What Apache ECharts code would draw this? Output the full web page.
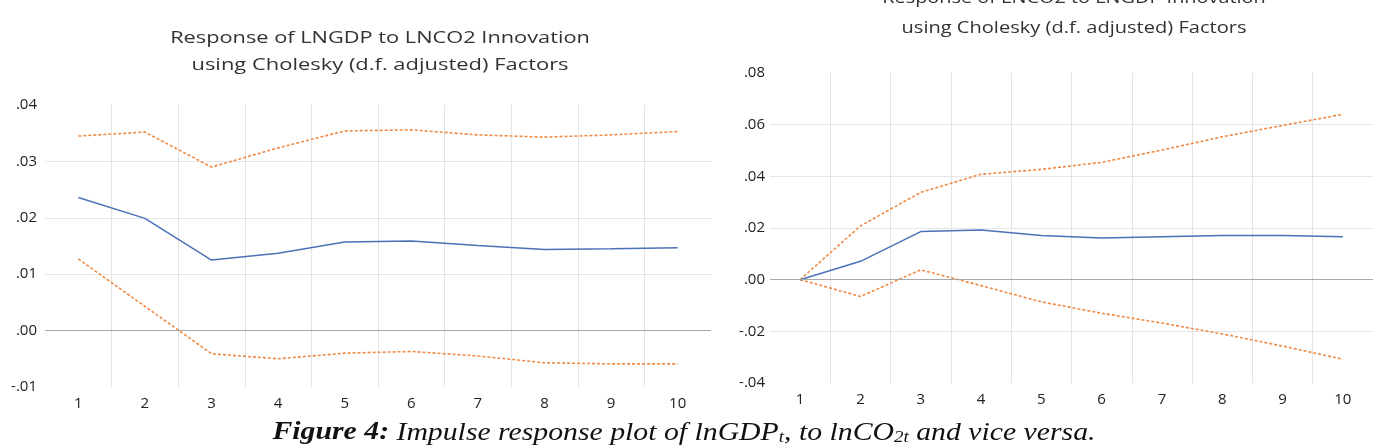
<!DOCTYPE html>
<html>
<head>
<meta charset="utf-8">
<script src="https://cdn.jsdelivr.net/npm/echarts@6/dist/echarts.min.js"></script>
<style>
html,body{margin:0;padding:0;background:#fff;}
#chart{width:1386px;height:447px;}
</style>
</head>
<body>
<div id="chart"></div>
<script>
// ---- Data ----
var periods = ['1','2','3','4','5','6','7','8','9','10'];

// Left: Response of LNGDP to LNCO2 Innovation
var gdpResp  = [0.0236, 0.0199, 0.0125, 0.0137, 0.0157, 0.0159, 0.0151, 0.0144, 0.0145, 0.0147];
var gdpUpper = [0.0345, 0.0352, 0.0290, 0.0324, 0.0354, 0.0356, 0.0347, 0.0343, 0.0347, 0.0353];
var gdpLower = [0.0127, 0.0043, -0.0041, -0.0050, -0.0040, -0.0037, -0.0045, -0.0057, -0.0059, -0.0059];

// Right: Response of LNCO2 to LNGDP Innovation
var co2Resp  = [0.0000, 0.0071, 0.0186, 0.0192, 0.0171, 0.0161, 0.0166, 0.0171, 0.0171, 0.0166];
var co2Upper = [0.0000, 0.0208, 0.0338, 0.0408, 0.0427, 0.0454, 0.0502, 0.0553, 0.0597, 0.0640];
var co2Lower = [0.0000, -0.0065, 0.0038, -0.0023, -0.0086, -0.0130, -0.0168, -0.0210, -0.0257, -0.0308];

var leftTitle  = ['Response of LNGDP to LNCO2 Innovation', 'using Cholesky (d.f. adjusted) Factors'];
var rightTitle = ['Response of LNCO2 to LNGDP Innovation', 'using Cholesky (d.f. adjusted) Factors'];

// ---- Styles ----
var BLUE = '#4a72b8';
var ORANGE = '#ee8a45';
var FONT = '"Open Sans", "Noto Sans", sans-serif';

function fmt(v) {
  var r = Math.round(v * 10000) / 10000;
  if (Math.abs(r) < 1e-9) return '.00';
  var s = Math.abs(r).toFixed(2).replace(/^0/, '');
  return (r < 0 ? '-' : '') + s;
}

function xAxis(gi) {
  return {
    type: 'category', gridIndex: gi, data: periods, boundaryGap: true,
    axisLine: { show: false }, axisTick: { show: false },
    axisLabel: { color: '#222', fontFamily: FONT, fontSize: 15, margin: 9 },
    splitLine: { show: true, interval: 0, showMinLine: false, showMaxLine: false,
      lineStyle: { color: '#e3e3e3', width: 1 } }
  };
}
function yAxis(gi, min, max, interval, margin) {
  return {
    type: 'value', gridIndex: gi, min: min, max: max, interval: interval,
    axisLine: { show: false }, axisTick: { show: false },
    axisLabel: { color: '#222', fontFamily: FONT, fontSize: 15, margin: margin, formatter: fmt },
    splitLine: { show: true, showMinLine: false, showMaxLine: false, lineStyle: { color: '#e6e6e6', width: 1 } }
  };
}
function line(name, data, gi, color, dashed) {
  return {
    name: name, type: 'line', xAxisIndex: gi, yAxisIndex: gi, data: data,
    symbol: 'none', smooth: false, silent: true,
    lineStyle: { color: color, width: dashed ? 1.6 : 1.5, type: dashed ? [3, 2] : 'solid' },
    z: dashed ? 3 : 4
  };
}
function zeroLine(gi) {
  return {
    type: 'line', xAxisIndex: gi, yAxisIndex: gi, data: [], symbol: 'none',
    markLine: { silent: true, symbol: 'none', label: { show: false },
      lineStyle: { color: '#a8a8a8', width: 1.2, type: 'solid' }, data: [{ yAxis: 0 }] },
    z: 2
  };
}

function titleText(txt, x, y, sx) {
  return { type: 'text', x: x, y: y, scaleX: sx, scaleY: 1,
    style: { text: txt, fill: '#333', font: '17px ' + FONT, textAlign: 'center', textVerticalAlign: 'middle' } };
}

var chart = echarts.init(document.getElementById('chart'), null, { renderer: 'canvas' });
chart.setOption({
  backgroundColor: '#fff',
  animation: false,
  grid: [
    { left: 45, top: 105, width: 666, height: 282 },
    { left: 770, top: 73, width: 603, height: 310 }
  ],
  xAxis: [xAxis(0), xAxis(1)],
  yAxis: [yAxis(0, -0.01, 0.04, 0.01, 8), yAxis(1, -0.04, 0.08, 0.02, 5)],
  series: [
    zeroLine(0), zeroLine(1),
    line('Upper', gdpUpper, 0, ORANGE, true),
    line('Lower', gdpLower, 0, ORANGE, true),
    line('Response', gdpResp, 0, BLUE, false),
    line('Upper', co2Upper, 1, ORANGE, true),
    line('Lower', co2Lower, 1, ORANGE, true),
    line('Response', co2Resp, 1, BLUE, false)
  ],
  graphic: [
    titleText(leftTitle[0], 380, 38, 1.28),
    titleText(leftTitle[1], 380, 65, 1.29),
    titleText(rightTitle[0], 1074, -2, 1.17),
    titleText(rightTitle[1], 1074, 28, 1.18),
    {
      type: 'text', x: 684, y: 433, scaleX: 1.19, scaleY: 1,
      style: {
        text: '{b|Figure 4:}{i| Impulse response plot of lnGDP}{s|t}{i|, to lnCO}{s|2t}{i| and vice versa.}',
        textAlign: 'center', textVerticalAlign: 'middle',
        rich: {
          b: { fontFamily: '"Liberation Serif", serif', fontStyle: 'italic', fontWeight: 'bold', fontSize: 25, fill: '#111' },
          i: { fontFamily: '"Liberation Serif", serif', fontStyle: 'italic', fontSize: 25, fill: '#111' },
          s: { fontFamily: '"Liberation Serif", serif', fontStyle: 'italic', fontSize: 16, fill: '#111', padding: [10, 0, 0, 0] }
        }
      }
    }
  ]
});
</script>
</body>
</html>
